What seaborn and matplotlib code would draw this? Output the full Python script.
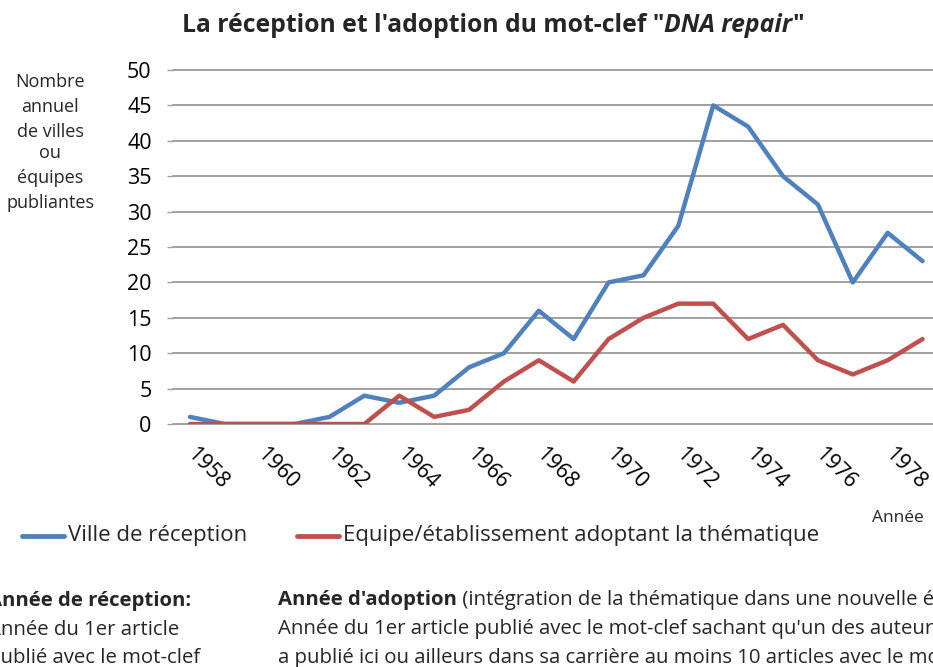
import matplotlib
matplotlib.use("Agg")
import matplotlib.pyplot as plt
import matplotlib.transforms as mtransforms
import seaborn as sns
import pandas as pd

years = list(range(1958, 1980))
ville_reception = [1, 0, 0, 0, 1, 4, 3, 4, 8, 10, 16, 12, 20, 21, 28, 45, 42, 35, 31, 20, 27, 23]
equipe_adoption = [0, 0, 0, 0, 0, 0, 4, 1, 2, 6, 9, 6, 12, 15, 17, 17, 12, 14, 9, 7, 9, 12]
series_names = ["Ville de réception", "Equipe/établissement adoptant la thématique"]
series_colors = ["#4F81BD", "#C0504D"]
year_ticks = list(range(1958, 1980, 2))
y_ticks = list(range(0, 51, 5))

df = pd.DataFrame({
    "Année": years * 2,
    "Nombre": ville_reception + equipe_adoption,
    "Série": [series_names[0]] * len(years) + [series_names[1]] * len(years),
})

sns.set_theme(style="white")
plt.rcParams["font.family"] = ["Open Sans", "DejaVu Sans"]

W, H = 933, 667
fig = plt.figure(figsize=(W / 100, H / 100), dpi=100)
ax = fig.add_axes([172.5 / W, 1 - 424 / H, (940 - 172.5) / W, (424 - 70) / H])

sns.lineplot(data=df, x="Année", y="Nombre", hue="Série", palette=series_colors,
             linewidth=3.2, ax=ax, legend=False, zorder=3)

ax.set_xlim(1957.5, 1979.5)
ax.set_ylim(0, 50)
ax.set_yticks(y_ticks)
ax.set_yticklabels([str(v) for v in y_ticks], fontsize=15.5, color="#000000")
ax.set_xticks(year_ticks)
ax.set_xticklabels([str(y) for y in year_ticks], rotation=-45, ha="left", va="top",
                   fontsize=15.5, color="#000000")
ax.tick_params(axis="y", length=4, width=1, color="#a0a0a0", pad=11, left=True)
ax.tick_params(axis="x", length=0, pad=14)
shift = mtransforms.ScaledTranslation(-7 / 100, 0, fig.dpi_scale_trans)
for lbl in ax.get_xticklabels():
    lbl.set_transform(lbl.get_transform() + shift)
ax.grid(axis="y", color="#9a9a9a", linewidth=1.3)
for gl in ax.get_ygridlines():
    gl.set_clip_on(False)
ax.set_axisbelow(True)
for s in ax.spines.values():
    s.set_visible(False)
ax.set_xlabel("")
ax.set_ylabel("")

# Title with italic keyword
renderer = fig.canvas.get_renderer()
title_parts = [("La réception et l'adoption du mot-clef \"", "normal"),
               ("DNA repair", "italic"), ("\"", "normal")]
texts = []
for txt, style in title_parts:
    t = fig.text(0, 1 - 25 / H, txt, fontsize=17.8, fontweight="bold", style=style,
                 va="center", ha="left")
    texts.append(t)
widths = [t.get_window_extent(renderer).width for t in texts]
start = 493 - sum(widths) / 2
for t, w in zip(texts, widths):
    t.set_x(start / W)
    start += w

# Vertical axis caption, line by line
ylabel_lines = [("Nombre", 82), ("annuel", 107), ("de villes", 132), ("ou", 153),
                ("équipes", 178), ("publiantes", 203)]
for txt, ypix in ylabel_lines:
    fig.text(50 / W, 1 - ypix / H, txt, fontsize=13, ha="center", va="center")

fig.text(898 / W, 1 - 518 / H, "Année", fontsize=12.5, ha="center", va="center")

# Legend
leg_y = 1 - 536 / H
for (x_line, x_text), name, col in zip([(22, 68), (297, 343)], series_names, series_colors):
    fig.add_artist(plt.Line2D([x_line / W, (x_line + 42) / W], [leg_y, leg_y],
                              color=col, linewidth=3.5, solid_capstyle="round",
                              transform=fig.transFigure))
    fig.text(x_text / W, leg_y, name, fontsize=16, ha="left", va="center")

# Definitions below the chart
def mixed_line(x, ypix, parts, size=14.7):
    xpix = x
    for txt, weight in parts:
        t = fig.text(xpix / W, 1 - ypix / H, txt, fontsize=size, fontweight=weight,
                     ha="left", va="center")
        xpix += t.get_window_extent(renderer).width

mixed_line(-12, 601, [("Année de réception:", "bold")])
mixed_line(-12, 630, [("Année du 1er article", "normal")])
mixed_line(-12, 658, [("publié avec le mot-clef", "normal")])
mixed_line(278, 600, [("Année d'adoption", "bold"),
                      (" (intégration de la thématique dans une nouvelle équipe):", "normal")])
mixed_line(278, 629, [("Année du 1er article publié avec le mot-clef sachant qu'un des auteurs", "normal")])
mixed_line(278, 658, [("a publié ici ou ailleurs dans sa carrière au moins 10 articles avec le mot-clef", "normal")])

fig.savefig("out.png", dpi=100)
